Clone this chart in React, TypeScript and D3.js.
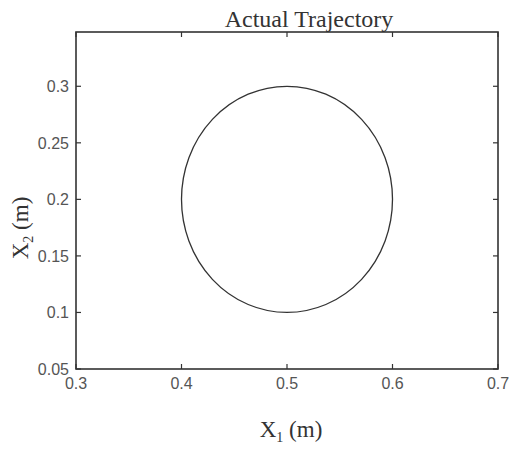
import React from "react";
import * as d3 from "d3";

// Axis settings
const xDomain: [number, number] = [0.3, 0.7];
const yDomain: [number, number] = [0.05, 0.348];
const xTicks = [0.3, 0.4, 0.5, 0.6, 0.7];
const xTickLabels = ["0.3", "0.4", "0.5", "0.6", "0.7"];
const yTicks = [0.05, 0.1, 0.15, 0.2, 0.25, 0.3];
const yTickLabels = ["0.05", "0.1", "0.15", "0.2", "0.25", "0.3"];

// Trajectory: circle described by its centre and radius (m)
const trajCenter = [0.5, 0.2];
const trajRadius = [0.1];

const W = 510;
const H = 449;
const left = 76;
const right = 498;
const top = 32;
const bottom = 369;

export default function App() {
  const x = d3.scaleLinear().domain(xDomain).range([left, right]);
  const y = d3.scaleLinear().domain(yDomain).range([bottom, top]);
  const tickLen = 5;
  const axisColor = "#333";
  const labelColor = "#555";

  const cx = x(trajCenter[0]);
  const cy = y(trajCenter[1]);
  const rx = x(trajCenter[0] + trajRadius[0]) - cx;
  const ry = cy - y(trajCenter[1] + trajRadius[0]);

  return (
    <svg
      width={W}
      height={H}
      style={{ position: "absolute", left: 0, top: 0, background: "#fff" }}
    >
      {/* title */}
      <text
        x={(left + right) / 2 + 22}
        y={27}
        textAnchor="middle"
        fontFamily="'Liberation Serif', 'Times New Roman', serif"
        fontSize={24}
        fill="#333"
      >
        Actual Trajectory
      </text>

      {/* trajectory */}
      <ellipse cx={cx} cy={cy} rx={rx} ry={ry} fill="none" stroke="#333" strokeWidth={1.3} />

      {/* box */}
      <rect
        x={left}
        y={top}
        width={right - left}
        height={bottom - top}
        fill="none"
        stroke={axisColor}
        strokeWidth={1.6}
      />

      {/* x ticks (bottom and top, inward) */}
      {xTicks.map((t, i) => (
        <g key={"x" + i}>
          <line x1={x(t)} x2={x(t)} y1={bottom} y2={bottom - tickLen} stroke={axisColor} strokeWidth={1.2} />
          <line x1={x(t)} x2={x(t)} y1={top} y2={top + tickLen} stroke={axisColor} strokeWidth={1.2} />
          <text
            x={x(t)}
            y={389}
            textAnchor="middle"
            fontFamily="'Liberation Sans', Arial, sans-serif"
            fontSize={16}
            fill={labelColor}
          >
            {xTickLabels[i]}
          </text>
        </g>
      ))}

      {/* y ticks (left and right, inward) */}
      {yTicks.map((t, i) => (
        <g key={"y" + i}>
          <line x1={left} x2={left + tickLen} y1={y(t)} y2={y(t)} stroke={axisColor} strokeWidth={1.2} />
          <line x1={right} x2={right - tickLen} y1={y(t)} y2={y(t)} stroke={axisColor} strokeWidth={1.2} />
          <text
            x={69}
            y={y(t)}
            dy="0.36em"
            textAnchor="end"
            fontFamily="'Liberation Sans', Arial, sans-serif"
            fontSize={16}
            fill={labelColor}
          >
            {yTickLabels[i]}
          </text>
        </g>
      ))}

      {/* x axis label */}
      <text
        x={291}
        y={437}
        textAnchor="middle"
        fontFamily="'Liberation Serif', 'Times New Roman', serif"
        fontSize={23}
        fill="#333"
      >
        X<tspan fontSize={14} dy={5}>1</tspan>
        <tspan dy={-5}> (m)</tspan>
      </text>

      {/* y axis label */}
      <text
        transform={`translate(28, 228) rotate(-90)`}
        textAnchor="middle"
        fontFamily="'Liberation Serif', 'Times New Roman', serif"
        fontSize={23}
        fill="#333"
      >
        X<tspan fontSize={14} dy={5}>2</tspan>
        <tspan dy={-5}> (m)</tspan>
      </text>
    </svg>
  );
}
